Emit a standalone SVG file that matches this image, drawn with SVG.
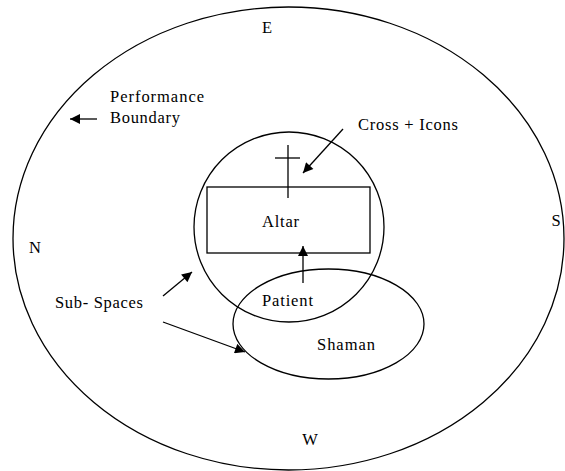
<svg xmlns="http://www.w3.org/2000/svg" width="565" height="471" viewBox="0 0 565 471">
<style>
.s{fill:none;stroke:#000;stroke-width:1.3}
.t{font-family:"Liberation Serif","Times New Roman",serif;font-size:16.5px;fill:#000}
.c{stroke:#000;stroke-width:1.3;fill:none}
</style>
<defs>
<marker id="ah" viewBox="0 0 10 10" refX="10" refY="5" markerWidth="11" markerHeight="10" markerUnits="userSpaceOnUse" orient="auto">
<path d="M0,0 L10,5 L0,10 z" fill="#000"/>
</marker>
</defs>
<rect width="565" height="471" fill="#fff"/>
<g id="boundary">
<ellipse class="s" cx="288.5" cy="238.5" rx="275.5" ry="231.5"/>
<text class="t" x="267" y="33" text-anchor="middle">E</text>
<text class="t" x="310" y="445" text-anchor="middle">W</text>
<text class="t" x="35" y="253" text-anchor="middle">N</text>
<text class="t" x="556" y="226" text-anchor="middle">S</text>
</g>
<g id="inner-circle">
<circle class="s" cx="289" cy="227" r="95"/>
</g>
<g id="altar">
<rect class="s" x="207" y="187" width="163" height="66"/>
<text class="t" x="280.5" y="227" text-anchor="middle" textLength="37" lengthAdjust="spacing">Altar</text>
</g>
<g id="cross">
<line class="c" x1="288" y1="145" x2="288" y2="198"/>
<line class="c" x1="275" y1="158" x2="300" y2="158"/>
</g>
<g id="shaman">
<ellipse class="s" cx="328.5" cy="324" rx="95.5" ry="55"/>
<text class="t" x="346" y="350" text-anchor="middle" textLength="58" lengthAdjust="spacing">Shaman</text>
</g>
<g id="patient">
<text class="t" x="287.5" y="306" text-anchor="middle" textLength="51" lengthAdjust="spacing">Patient</text>
</g>
<g id="labels">
<text class="t" x="110" y="102" textLength="94" lengthAdjust="spacing">Performance</text>
<text class="t" x="110" y="123" textLength="70" lengthAdjust="spacing">Boundary</text>
<text class="t" x="358" y="130" textLength="100" lengthAdjust="spacing">Cross + Icons</text>
<text class="t" x="55" y="308" textLength="88" lengthAdjust="spacing">Sub- Spaces</text>
</g>
<g id="connectors">
<line class="c" x1="97" y1="119" x2="70" y2="119" marker-end="url(#ah)"/>
<line class="c" x1="343" y1="129" x2="303" y2="173" marker-end="url(#ah)"/>
<line class="c" x1="303" y1="283" x2="303" y2="246" marker-end="url(#ah)"/>
<line class="c" x1="163" y1="296" x2="192" y2="272" marker-end="url(#ah)"/>
<line class="c" x1="163" y1="322" x2="245" y2="352" marker-end="url(#ah)"/>
</g>
</svg>
